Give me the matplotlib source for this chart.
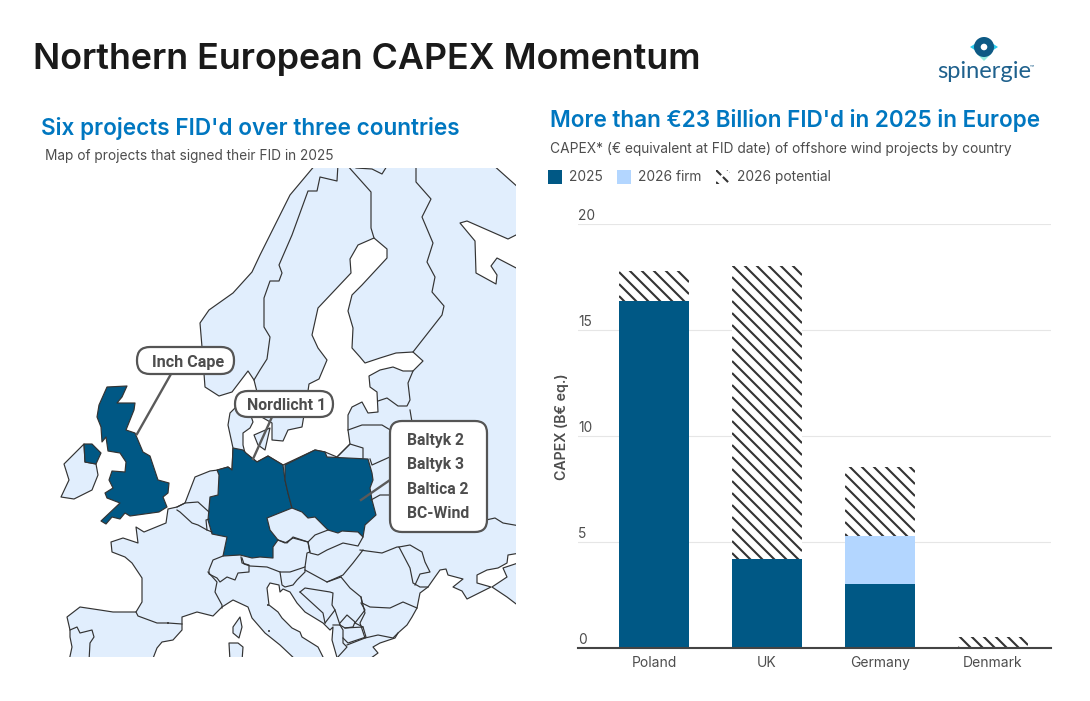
import matplotlib
matplotlib.use('Agg')
import matplotlib.pyplot as plt
from matplotlib.patches import Polygon, Rectangle, FancyBboxPatch, Circle

# bar data
countries = ['Poland', 'UK', 'Germany', 'Denmark']
capex_2025 = [16.37, 4.2, 3.0, 0]
capex_2026_firm = [0, 0, 2.27, 0]
capex_2026_potential = [1.41, 13.8, 3.27, 0.5]
y_ticks = [0, 5, 10, 15, 20]

DARK = '#005885'
LIGHT = '#E1EEFD'
FIRM = '#B3D6FF'
BLUE = '#0077C0'
GREY = '#4d4d4d'
LINE = '#333333'

TITLE_FONT = ['Inter', 'DejaVu Sans']

# map outlines, in picture pixels
land_main = [(69, 661), (72, 647), (70, 637), (70, 630), (67, 617), (80, 607), (100, 610), (113, 612), (136, 612),
             (142, 602), (142, 578), (132, 563), (125, 557), (112, 552), (111, 542), (123, 538), (138, 543), (136, 527),
             (144, 532), (166, 523), (168, 509), (177, 507), (185, 503), (195, 477), (210, 471), (218, 470), (228, 467),
             (232, 470), (233, 448), (228, 425), (230, 413), (235, 408), (250, 413), (253, 422), (250, 428), (243, 433),
             (243, 445), (245, 453), (252, 458), (257, 462), (268, 456), (283, 465), (315, 450), (325, 452), (337, 457),
             (350, 444), (348, 430), (348, 415), (352, 407), (362, 402), (368, 413), (378, 412), (377, 392), (370, 387),
             (369, 376), (380, 370), (393, 367), (403, 371), (413, 371), (423, 361), (413, 352), (396, 353), (380, 358),
             (365, 363), (360, 357), (352, 348), (353, 328), (348, 311), (352, 295), (362, 285), (387, 258), (387, 249),
             (374, 238), (358, 245), (350, 259), (351, 273), (318, 308), (312, 335), (318, 348), (327, 360), (319, 379),
             (309, 384), (308, 391), (304, 415), (302, 427), (288, 430), (283, 441), (272, 440), (272, 423), (258, 415),
             (257, 392), (254, 380), (248, 371), (232, 392), (219, 396), (205, 387), (202, 347), (200, 323), (209, 310),
             (233, 293), (252, 272), (260, 255), (290, 195), (316, 164), (492, 164), (520, 189), (520, 233), (508, 239),
             (467, 221), (460, 223), (475, 241), (476, 273), (496, 284), (497, 275), (491, 266), (497, 258), (520, 270),
             (520, 553), (508, 555), (507, 563), (498, 568), (487, 570), (477, 575), (477, 583), (491, 587), (467, 599),
             (462, 591), (453, 587), (463, 579), (448, 575), (446, 569), (440, 570), (435, 577), (428, 587), (420, 593),
             (417, 608), (412, 617), (407, 625), (398, 633), (395, 638), (380, 643), (373, 647), (378, 653), (367, 661),
             (338, 661), (332, 640), (333, 627), (330, 630), (323, 623), (305, 612), (297, 603), (290, 592), (283, 589),
             (280, 592), (279, 585), (270, 583), (267, 588), (269, 605), (278, 612), (282, 618), (292, 628), (300, 632),
             (302, 637), (318, 647), (325, 661), (297, 661), (280, 645), (265, 633), (252, 618), (248, 607), (233, 600),
             (222, 607), (213, 616), (197, 612), (182, 617), (182, 630), (173, 640), (162, 642), (157, 648), (152, 661)]
# Russian coast east of the Sea of Azov
caucasus = [(524, 561), (503, 568), (507, 577), (492, 587), (507, 597), (524, 610)]
ireland = [(84, 444), (64, 464), (69, 480), (61, 497), (74, 499), (92, 490), (98, 475), (96, 464), (85, 462)]
zealand = [(254, 435), (270, 428), (265, 450), (258, 445)]
corsica = [(233, 627), (240, 617), (242, 627), (239, 638), (233, 633)]
sardinia = [(229, 643), (238, 643), (243, 647), (242, 661), (230, 661)]

uk = [(107, 387), (127, 386), (122, 397), (117, 403), (135, 403), (134, 410), (126, 430), (135, 433), (143, 452),
      (150, 456), (158, 480), (169, 483), (168, 493), (163, 497), (167, 507), (159, 512), (130, 516), (125, 513),
      (120, 519), (112, 517), (106, 524), (101, 521), (120, 503), (107, 498), (105, 493), (113, 488), (109, 480),
      (112, 471), (125, 472), (126, 462), (120, 453), (108, 451), (106, 437), (102, 442), (101, 427), (97, 417),
      (99, 405)]
n_ireland = [(84, 444), (92, 444), (101, 453), (96, 464), (85, 462)]
germany = [(217, 470), (228, 467), (232, 470), (233, 448), (243, 450), (246, 453), (252, 458), (257, 462), (268, 456),
           (283, 465), (285, 480), (288, 493), (292, 508), (267, 518), (270, 530), (278, 540), (273, 547), (273, 558),
           (260, 557), (252, 558), (240, 555), (223, 556), (227, 537), (212, 534), (208, 520), (210, 497), (218, 495),
           (219, 475)]
poland = [(285, 465), (315, 450), (325, 452), (327, 457), (368, 459), (372, 473), (373, 480), (370, 488), (372, 500),
          (376, 515), (365, 525), (363, 537), (358, 532), (342, 531), (338, 533), (328, 530), (315, 517), (308, 518),
          (302, 512), (292, 508), (288, 493), (285, 480)]

borders = [
    # Norway / Sweden
    [(338, 164), (337, 181), (320, 177), (317, 191), (308, 191), (292, 235), (279, 265), (282, 273), (279, 281),
     (270, 281), (264, 298), (264, 327), (270, 337), (267, 359), (260, 370), (254, 380)],
    # Sweden / Finland
    [(346, 164), (371, 192), (371, 228), (374, 238)],
    [(356, 168), (372, 169), (382, 174), (387, 166)],
    # Finland / Russia
    [(416, 164), (416, 182), (431, 199), (422, 217), (433, 243), (427, 262), (435, 277), (432, 292), (444, 306),
     (442, 315), (413, 352)],
    # Baltics
    [(413, 371), (408, 383), (410, 400), (407, 406), (398, 406), (387, 398), (378, 401)],
    [(348, 430), (362, 425), (382, 425), (392, 431)],
    [(337, 457), (350, 444), (363, 448), (363, 458)],
    [(370, 459), (372, 465), (392, 456)],
    [(410, 410), (412, 422)],
    [(371, 500), (380, 495), (392, 495)],
    [(486, 520), (495, 518), (503, 523), (520, 526)],
    # Benelux
    [(177, 507), (185, 503), (198, 502), (209, 512)],
    [(177, 510), (180, 512), (192, 523), (198, 525), (207, 530), (212, 532)],
    [(207, 530), (206, 520), (209, 519)],
    # Switzerland
    [(223, 556), (213, 560), (209, 570), (209, 574), (217, 578), (220, 582), (227, 577), (235, 580), (238, 573),
     (249, 572), (249, 565), (242, 563), (241, 557)],
    # Austria
    [(242, 558), (244, 564), (250, 566), (267, 567), (280, 572), (290, 572), (305, 567), (307, 553), (310, 552),
     (308, 542), (293, 538), (285, 543), (278, 540)],
    # France / Italy
    [(208, 572), (217, 582), (215, 592), (222, 605), (222, 608)],
    # France / Spain
    [(136, 612), (138, 616), (157, 623), (168, 623), (182, 624)],
    # Portugal
    [(70, 630), (77, 627), (80, 633), (92, 630), (94, 637), (90, 643), (89, 661)],
    # Slovenia
    [(280, 572), (282, 585), (285, 587), (293, 585), (297, 580), (305, 572), (305, 567)],
    # Czechia, Slovakia
    [(278, 540), (287, 543), (293, 537), (308, 542), (315, 535), (328, 530)],
    [(308, 542), (310, 553), (318, 555), (327, 550), (343, 543), (358, 546), (363, 537)],
    # Hungary
    [(305, 570), (327, 582), (343, 575), (353, 563), (363, 550)],
    # Romania, Moldova
    [(341, 577), (350, 588), (361, 597), (362, 603), (370, 607), (390, 608), (403, 602), (417, 608)],
    [(360, 550), (367, 551), (382, 553), (397, 547), (399, 547), (410, 568), (413, 583), (420, 587), (428, 587)],
    [(399, 547), (410, 545), (422, 552), (425, 562), (430, 572), (420, 574), (415, 585)],
    # Bulgaria
    [(361, 597), (365, 613), (360, 623), (365, 638), (378, 635), (393, 638), (398, 633)],
    # Serbia, Bosnia, Balkans
    [(327, 582), (341, 577)],
    [(300, 592), (305, 588), (330, 592), (333, 593), (332, 605), (335, 610), (325, 623)],
    [(300, 592), (323, 613), (325, 623)],
    [(335, 610), (340, 625), (333, 625)],
    [(340, 625), (343, 630), (343, 643), (347, 647), (337, 658)],
    [(340, 623), (347, 615), (355, 622), (353, 627), (345, 628), (340, 625)],
    [(345, 628), (363, 627), (366, 637), (348, 643), (343, 638)],
    [(347, 645), (365, 638)],
    [(361, 603), (365, 610), (355, 623), (363, 627)],
]

# small states drawn as dots
dots = [(168, 623), (268, 605), (269, 631)]

fig = plt.figure(figsize=(10.9, 7.01), dpi=100)
bg = fig.add_axes([0, 0, 1, 1])
bg.set_xlim(0, 1090)
bg.set_ylim(701, 0)
bg.axis('off')

map_clip = Rectangle((0, 168), 516, 489, transform=bg.transData)

for pts in [land_main, caucasus, ireland, zealand, corsica, sardinia]:
    poly = bg.add_patch(Polygon(pts, closed=True, fc=LIGHT, ec=LINE, lw=0.85, joinstyle='round'))
    poly.set_clip_path(map_clip)
for line in borders:
    l, = bg.plot([p[0] for p in line], [p[1] for p in line], color=LINE, lw=0.85)
    l.set_clip_path(map_clip)
for pts in [uk, n_ireland, germany, poland]:
    poly = bg.add_patch(Polygon(pts, closed=True, fc=DARK, ec=LINE, lw=0.85, joinstyle='round'))
    poly.set_clip_path(map_clip)
for x, y in dots:
    bg.add_patch(Circle((x, y), 1.0, fc=LINE, ec='none'))

# callouts
bg.plot([171, 137], [374, 434], color='#5a5a5a', lw=1.7)
bg.plot([272, 253], [417, 459], color='#5a5a5a', lw=1.7)
bg.plot([390, 361], [480, 500], color='#5a5a5a', lw=1.7)


def callout(x0, y0, x1, y1, radius):
    box = FancyBboxPatch((x0 + radius, y0 + radius), x1 - x0 - 2 * radius, y1 - y0 - 2 * radius,
                         boxstyle='round,pad=%s,rounding_size=%s' % (radius, radius),
                         fc='white', ec='#555555', lw=1.6, zorder=4)
    bg.add_patch(box)


callout(137, 347, 234, 374, 13)
callout(235, 391, 333, 417, 13)
callout(390, 421, 487, 532, 12)
bg.text(152, 362, 'Inch Cape', family='Roboto', fontweight='bold', fontsize=11.6, color=GREY, va='center', zorder=5)
bg.text(247, 405, 'Nordlicht 1', family='Roboto', fontweight='bold', fontsize=11.4, color=GREY, va='center', zorder=5)
for y, name in zip([441, 465, 489, 513], ['Baltyk 2', 'Baltyk 3', 'Baltica 2', 'BC-Wind']):
    bg.text(407, y, name, family='Roboto', fontweight='bold', fontsize=11.3, color=GREY, va='center', zorder=5)

# titles
bg.text(33, 59, 'Northern European CAPEX Momentum', family=TITLE_FONT, fontweight=600, fontsize=25.8,
        color='#1a1a1a', va='center')
bg.text(41, 128, "Six projects FID'd over three countries", family=TITLE_FONT, fontweight=600, fontsize=16.25,
        color=BLUE, va='center')
bg.text(550, 121, "More than €23 Billion FID'd in 2025 in Europe", family=TITLE_FONT, fontweight=600, fontsize=16.2,
        color=BLUE, va='center')
bg.text(45, 156, 'Map of projects that signed their FID in 2025', family=TITLE_FONT, fontsize=9.85,
        color=GREY, va='center')
bg.text(550, 149, 'CAPEX* (€ equivalent at FID date) of offshore wind projects by country', family=TITLE_FONT,
        fontsize=9.9, color=GREY, va='center')


# diagonal stripes at 12 px, in picture pixels, clipped to a patch
def stripes(axis, patch, phase, zorder, **kw):
    ext = patch.get_window_extent()
    x0, x1 = ext.x0, ext.x1
    y0, y1 = 701 - ext.y1, 701 - ext.y0
    c = int(x0 - y1) // 12 * 12 + phase
    while c < x1 - y0:
        l, = axis.plot([x0, x1], [x0 - c, x1 - c], transform=bg.transData, color=LINE, lw=1.5,
                       solid_capstyle='butt', dash_capstyle='butt', zorder=zorder, scalex=False, scaley=False, **kw)
        l.set_clip_path(patch)
        c += 12


# legend
bg.add_patch(Rectangle((548, 170), 14, 14, fc=DARK, ec='none'))
bg.add_patch(Rectangle((617, 170), 14, 14, fc=FIRM, ec='none'))
swatch = bg.add_patch(Rectangle((716, 170), 14, 14, fc='white', ec='none'))
stripes(bg, swatch, 6, 2, linestyle=(0, (3.5, 1.2)))
bg.text(569, 177, '2025', family=TITLE_FONT, fontsize=9.9, color=GREY, va='center')
bg.text(638, 177, '2026 firm', family=TITLE_FONT, fontsize=9.9, color=GREY, va='center')
bg.text(737, 177, '2026 potential', family=TITLE_FONT, fontsize=9.9, color=GREY, va='center')

# logo
bg.add_patch(Polygon([(970, 47), (984, 38), (998, 47), (984, 56)], closed=True, fc='#2BCDEE', ec='none'))
bg.add_patch(Polygon([(977, 54), (991, 54), (984, 61)], closed=True, fc='#8FEBDD', ec='none'))
bg.add_patch(Circle((984, 47), 10, fc='#0E5A85', ec='none'))
bg.add_patch(Circle((984, 47), 3.3, fc='white', ec='none'))
bg.text(937, 72, 'spinergie', family='Lato', fontsize=17, color='#1F618D', va='center')
bg.text(1030, 67, '™', family='Lato', fontsize=4, color='#1F618D', va='center')

# bar chart
ax = fig.add_axes([578 / 1090, 1 - 648 / 701, 473 / 1090, 424 / 701])
ax.set_xlim(-0.673, 3.513)
ax.set_ylim(0, 20)
ax.patch.set_alpha(0)
x = range(len(countries))
bottom_firm = capex_2025
bottom_pot = [a + b for a, b in zip(capex_2025, capex_2026_firm)]
ax.bar(x, capex_2025, width=0.62, color=DARK, lw=0, zorder=3)
ax.bar(x, capex_2026_firm, width=0.62, bottom=bottom_firm, color=FIRM, lw=0, zorder=3)
potential = ax.bar(x, capex_2026_potential, width=0.62, bottom=bottom_pot, facecolor='white', lw=0, zorder=3)
for bar in potential:
    stripes(ax, bar, 11, 3.5)

for s in ['top', 'left', 'right']:
    ax.spines[s].set_visible(False)
ax.spines['bottom'].set_color('#444444')
ax.spines['bottom'].set_linewidth(1.5)
ax.spines['bottom'].set_zorder(4)
ax.set_yticks(y_ticks)
ax.set_yticklabels([])
ax.tick_params(axis='y', length=0)
ax.tick_params(axis='x', length=0, pad=6)
ax.grid(axis='y', color='#E6E6E6', lw=0.8, zorder=0)
ax.set_axisbelow(True)
ax.set_xticks(list(x))
ax.set_xticklabels(countries, family=TITLE_FONT, fontsize=10, color=GREY)
for t in y_ticks:
    ax.annotate(str(t), xy=(0, t), xycoords=('axes fraction', 'data'), xytext=(0, 1), textcoords='offset points',
                ha='left', va='bottom', family=TITLE_FONT, fontsize=9.9, color=GREY)
bg.text(562, 427, 'CAPEX (B€ eq.)', family=TITLE_FONT, fontweight=600, fontsize=10.2, color=GREY,
        rotation=90, ha='center', va='center')

fig.savefig('out.png', dpi=100)
